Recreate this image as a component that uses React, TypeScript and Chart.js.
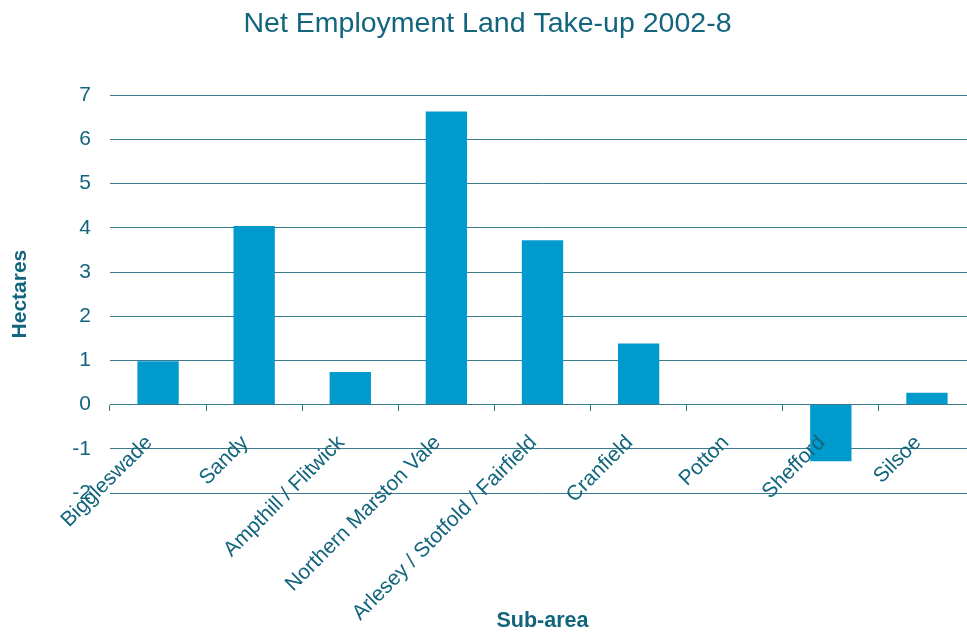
import React, { useEffect, useRef } from "react";
import { Chart, registerables } from "chart.js";

Chart.register(...registerables);

const categories = [
  "Biggleswade",
  "Sandy",
  "Ampthill / Flitwick",
  "Northern Marston Vale",
  "Arlesey / Stotfold / Fairfield",
  "Cranfield",
  "Potton",
  "Shefford",
  "Silsoe",
];
const hectares = [0.98, 4.04, 0.74, 6.63, 3.72, 1.38, 0, -1.28, 0.27];
const yMin = -2;
const yMax = 7;

const TEXT = "#13657e";
const GRID = "#3a7b90";
const BAR = "#009bcc";
const FONT = "'Liberation Sans', Arial, sans-serif";

export default function App() {
  const ref = useRef<HTMLCanvasElement>(null);
  useEffect(() => {
    if (!ref.current) return;
    Chart.defaults.font.family = FONT;
    const chart = new Chart(ref.current, {
      type: "bar",
      data: {
        labels: categories,
        datasets: [
          {
            data: hectares,
            backgroundColor: BAR,
            borderWidth: 0,
            barPercentage: 0.43,
            categoryPercentage: 1,
          },
        ],
      },
      options: {
        animation: false,
        responsive: false,
        layout: { padding: { top: 0, left: 0, right: 5, bottom: 140 } },
        plugins: {
          legend: { display: false },
          tooltip: { enabled: false },
          title: {
            display: true,
            text: "Net Employment Land Take-up 2002-8",
            color: TEXT,
            font: { size: 28.5, weight: "normal", family: FONT },
            padding: { top: 7, bottom: 54 },
          },
        },
        scales: {
          x: {
            type: "category",
            position: { y: 0 } as any,
            grid: {
              display: true,
              drawOnChartArea: false,
              drawTicks: true,
              tickLength: 6,
              color: GRID,
              offset: true,
            },
            border: { display: true, color: GRID, width: 1 },
            ticks: {
              z: 1,
              autoSkip: false,
              minRotation: 45,
              maxRotation: 45,
              padding: 20,
              labelOffset: -9,
              color: TEXT,
              font: { size: 21, family: FONT },
            },
            title: {
              display: true,
              text: "Sub-area",
              color: TEXT,
              font: { size: 21.5, weight: "bold", family: FONT },
              padding: { top: -37, bottom: 17 },
            },
          },
          y: {
            min: yMin,
            max: yMax,
            afterFit: (scale: any) => {
              scale.width = 110;
            },
            grid: { color: GRID, drawTicks: false },
            border: { display: false },
            ticks: {
              stepSize: 1,
              padding: 19,
              color: TEXT,
              font: { size: 21, family: FONT },
            },
            title: {
              display: true,
              text: "Hectares",
              color: TEXT,
              font: { size: 21, weight: "bold", family: FONT },
              padding: { top: 8, bottom: 0 },
            },
          },
        },
      },
    });
    return () => chart.destroy();
  }, []);
  return (
    <div
      style={{
        position: "absolute",
        left: 0,
        top: 0,
        width: 967,
        height: 633,
        overflow: "hidden",
        background: "#fff",
      }}
    >
      <canvas ref={ref} width={980} height={633} style={{ display: "block" }} />
    </div>
  );
}
